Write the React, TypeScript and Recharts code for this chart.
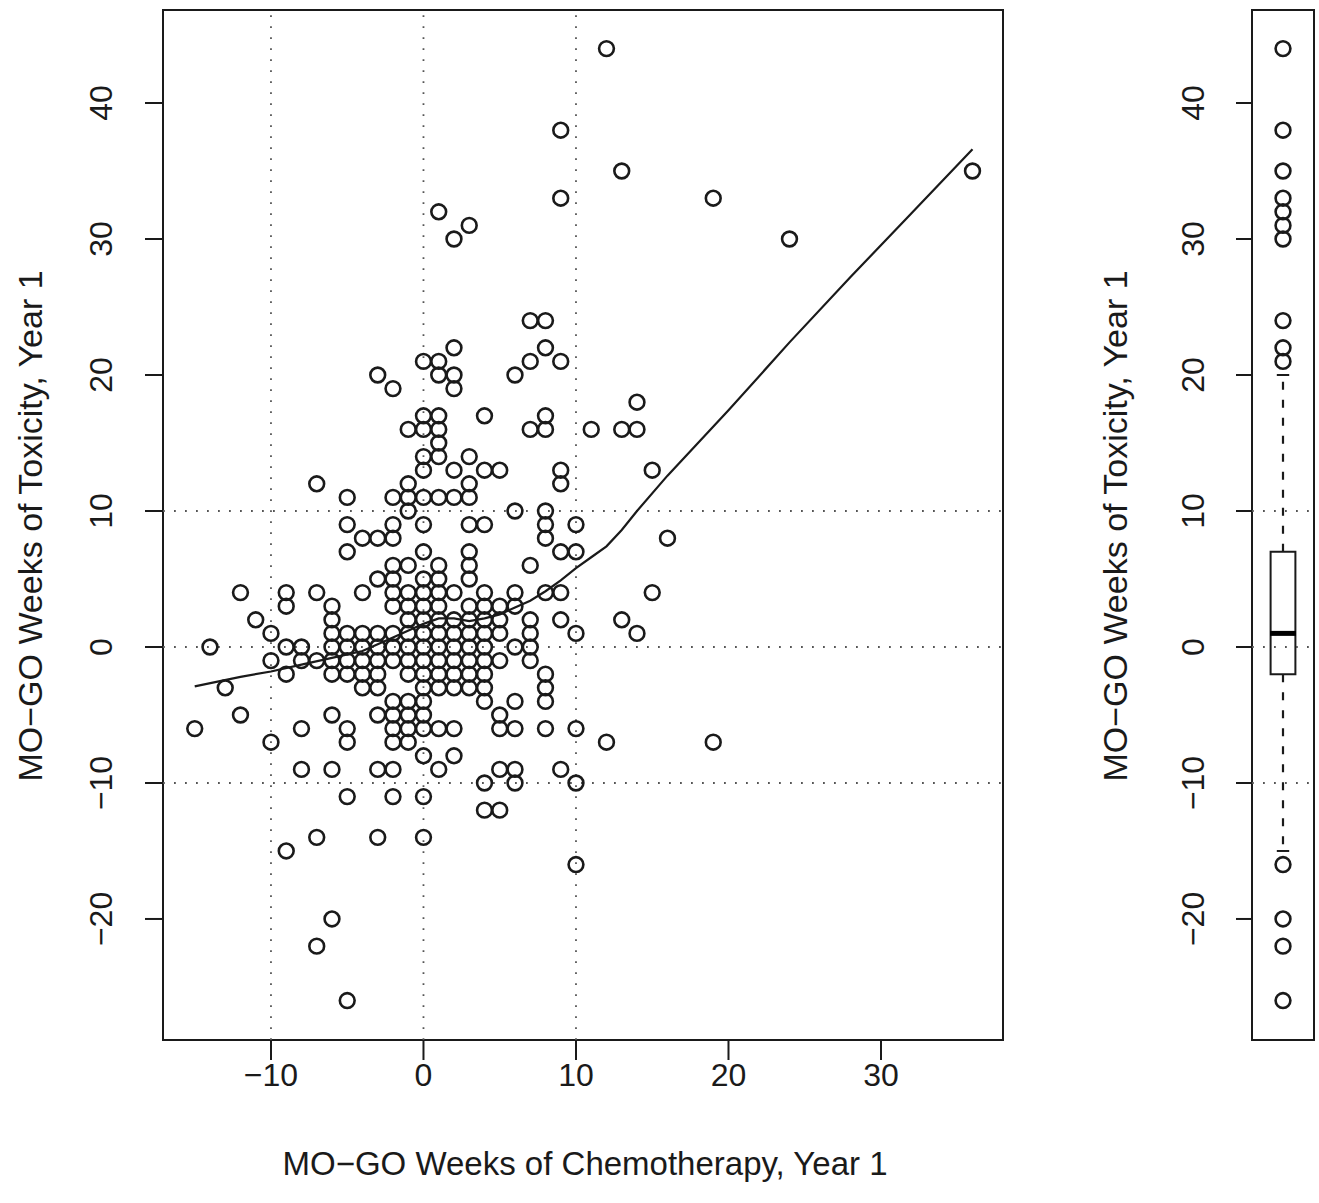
import React from 'react';
import {
  ScatterChart,
  Scatter,
  XAxis,
  YAxis,
  ReferenceLine,
  ReferenceArea,
} from 'recharts';

// x = chemo weeks, y values = toxicity weeks at that x
const pointColumns: [number, number[]][] = [
  [-15, [-6]],
  [-14, [0]],
  [-13, [-3]],
  [-12, [4, -5]],
  [-11, [2]],
  [-10, [1, -1, -7]],
  [-9, [4, 3, 0, -2, -15]],
  [-8, [0, -1, -6, -9]],
  [-7, [12, 4, -1, -14, -22]],
  [-6, [3, 2, 1, 0, -1, -2, -5, -9, -20]],
  [-5, [11, 9, 7, 1, 0, -1, -2, -6, -7, -11, -26]],
  [-4, [8, 4, 1, 0, -1, -2, -3]],
  [-3, [20, 8, 5, 1, 0, -1, -2, -3, -5, -9, -14]],
  [-2, [19, 11, 9, 8, 6, 5, 4, 3, 1, 0, -1, -4, -5, -6, -7, -9, -11]],
  [-1, [16, 12, 11, 10, 6, 4, 3, 2, 1, 0, -1, -2, -4, -5, -6, -7]],
  [0, [21, 17, 16, 14, 13, 11, 9, 7, 5, 4, 3, 2, 1, 0, -1, -2, -3, -4, -5, -6, -8, -11, -14]],
  [1, [32, 21, 20, 17, 16, 15, 14, 11, 6, 5, 4, 3, 2, 1, 0, -1, -2, -3, -6, -9]],
  [2, [30, 22, 20, 19, 13, 11, 4, 2, 1, 0, -1, -2, -3, -6, -8]],
  [3, [31, 14, 12, 11, 9, 7, 6, 5, 3, 2, 1, 0, -1, -2, -3]],
  [4, [17, 13, 9, 4, 3, 2, 1, 0, -1, -2, -3, -4, -10, -12]],
  [5, [13, 3, 2, 1, -1, -5, -6, -9, -12]],
  [6, [20, 10, 4, 3, 0, -4, -6, -9, -10]],
  [7, [24, 21, 16, 6, 2, 1, 0, -1]],
  [8, [24, 22, 17, 16, 10, 9, 8, 4, -2, -3, -4, -6]],
  [9, [38, 33, 21, 13, 12, 7, 4, 2, -9]],
  [10, [9, 7, 1, -6, -10, -16]],
  [11, [16]],
  [12, [44, -7]],
  [13, [35, 16, 2]],
  [14, [18, 16, 1]],
  [15, [13, 4]],
  [16, [8]],
  [19, [33, -7]],
  [24, [30]],
  [36, [35]],
];

// smooth fit
const smoothX = [-15, -12, -10, -8, -6, -4, -2, 0, 1, 2, 3, 4, 5, 6, 7, 8, 9, 10, 11, 12, 13, 14, 16, 18, 20, 24, 28, 32, 36];
const smoothY = [-2.9, -2.2, -1.8, -1.3, -0.8, -0.3, 0.7, 1.7, 2.1, 2.1, 1.9, 2.1, 2.4, 2.9, 3.4, 4.1, 4.9, 5.8, 6.6, 7.4, 8.6, 10.0, 12.6, 15.0, 17.4, 22.4, 27.2, 31.9, 36.6];

// boxplot of toxicity weeks
const boxQuartiles = [-2, 1, 7];
const boxWhiskers = [-15, 20];
const boxOutliers = [44, 38, 35, 33, 32, 31, 30, 24, 22, 21, -16, -20, -22, -26];

const xTicks = [-10, 0, 10, 20, 30];
const yTicks = [-20, -10, 0, 10, 20, 30, 40];
const xGuides = [-10, 0, 10];
const yGuides = [-10, 0, 10];

const xTitle = 'MO\u2212GO Weeks of Chemotherapy, Year 1';
const yTitle = 'MO\u2212GO Weeks of Toxicity, Year 1';

const X_MIN = -17.08;
const X_MAX = 38.0;
const Y_MIN = -28.9;
const Y_MAX = 46.84;

const FONT = '"Liberation Sans", Arial, Helvetica, sans-serif';
const INK = '#1a1a1a';

const points = pointColumns.flatMap(([x, ys]) => ys.map((y) => ({ x, y })));
const smooth = smoothX.map((x, i) => ({ x, y: smoothY[i] }));
const outliers = boxOutliers.map((y) => ({ x: 0.5, y }));

const fmt = (v: number) => (v < 0 ? '\u2212' + Math.abs(v) : String(v));

function OpenCircle(props: any) {
  const { cx, cy } = props;
  if (cx == null || cy == null) return <g />;
  return <circle cx={cx} cy={cy} r={7.4} fill="none" stroke={INK} strokeWidth={2.6} />;
}

function RotTick(props: any) {
  const { y, payload, labelX } = props;
  return (
    <text
      x={labelX}
      y={y}
      dy="0.35em"
      transform={`rotate(-90 ${labelX} ${y})`}
      textAnchor="middle"
      fontSize={32}
      fontFamily={FONT}
      fill={INK}
    >
      {fmt(payload.value)}
    </text>
  );
}

function XTick(props: any) {
  const { x, payload } = props;
  return (
    <text x={x} y={1086} textAnchor="middle" fontSize={32} fontFamily={FONT} fill={INK}>
      {fmt(payload.value)}
    </text>
  );
}

function Title(props: any) {
  const { tx, ty, rotate, text, size } = props;
  return (
    <text
      x={tx}
      y={ty}
      dy="0.35em"
      transform={rotate ? `rotate(-90 ${tx} ${ty})` : undefined}
      textAnchor="middle"
      fontSize={size}
      fontFamily={FONT}
      fill={INK}
    >
      {text}
    </text>
  );
}

const dotted = { stroke: '#555', strokeWidth: 1.8, strokeDasharray: '1.8 9.2' };

function MainPanel() {
  return (
    <ScatterChart width={1010} height={1203} margin={{ top: 10, right: 7, left: 0, bottom: 0 }}>
      <XAxis
        type="number"
        dataKey="x"
        domain={[X_MIN, X_MAX]}
        ticks={xTicks}
        interval={0}
        allowDataOverflow
        height={163}
        axisLine={false}
        tickSize={20}
        tickLine={{ stroke: INK, strokeWidth: 2 }}
        tick={(p: any) => <XTick {...p} />}
        label={<Title tx={585} ty={1163} size={33} text={xTitle} />}
      />
      <YAxis
        type="number"
        dataKey="y"
        domain={[Y_MIN, Y_MAX]}
        ticks={yTicks}
        interval={0}
        allowDataOverflow
        width={163}
        axisLine={false}
        tickSize={18}
        tickLine={{ stroke: INK, strokeWidth: 2 }}
        tick={(p: any) => <RotTick {...p} labelX={101} />}
        label={<Title tx={30} ty={526} rotate size={34} text={yTitle} />}
      />
      {xGuides.map((v) => (
        <ReferenceLine key={'gx' + v} x={v} {...dotted} />
      ))}
      {yGuides.map((v) => (
        <ReferenceLine key={'gy' + v} y={v} {...dotted} />
      ))}
      <Scatter data={points} shape={OpenCircle} isAnimationActive={false} />
      <Scatter
        data={smooth}
        line={{ stroke: INK, strokeWidth: 2.2 }}
        lineType="joint"
        shape={() => <g />}
        isAnimationActive={false}
      />
      <ReferenceArea
        x1={X_MIN}
        x2={X_MAX}
        y1={Y_MIN}
        y2={Y_MAX}
        fill="none"
        stroke={INK}
        strokeWidth={2}
        ifOverflow="visible"
      />
    </ScatterChart>
  );
}

function BoxPanel() {
  const [q1, med, q3] = boxQuartiles;
  const [lo, hi] = boxWhiskers;
  return (
    <ScatterChart width={309} height={1203} margin={{ top: 10, right: 5, left: 0, bottom: 163 }}>
      <XAxis type="number" dataKey="x" domain={[0, 1]} hide />
      <YAxis
        type="number"
        dataKey="y"
        domain={[Y_MIN, Y_MAX]}
        ticks={yTicks}
        interval={0}
        allowDataOverflow
        width={242}
        axisLine={false}
        tickSize={16}
        tickLine={{ stroke: INK, strokeWidth: 2 }}
        tick={(p: any) => <RotTick {...p} labelX={183} />}
        label={<Title tx={105} ty={526} rotate size={34} text={yTitle} />}
      />
      {yGuides.map((v) => (
        <ReferenceLine key={'by' + v} y={v} {...dotted} />
      ))}
      <ReferenceLine
        segment={[{ x: 0.5, y: q3 }, { x: 0.5, y: hi }]}
        stroke={INK}
        strokeWidth={2.2}
        strokeDasharray="8 10"
      />
      <ReferenceLine
        segment={[{ x: 0.5, y: q1 }, { x: 0.5, y: lo }]}
        stroke={INK}
        strokeWidth={2.2}
        strokeDasharray="8 10"
      />
      <ReferenceLine segment={[{ x: 0.4, y: hi }, { x: 0.6, y: hi }]} stroke={INK} strokeWidth={2} />
      <ReferenceLine segment={[{ x: 0.4, y: lo }, { x: 0.6, y: lo }]} stroke={INK} strokeWidth={2} />
      <ReferenceArea x1={0.3} x2={0.7} y1={q1} y2={q3} fill="#fff" fillOpacity={1} stroke={INK} strokeWidth={2} />
      <ReferenceLine segment={[{ x: 0.29, y: med }, { x: 0.71, y: med }]} stroke="#000" strokeWidth={5} />
      <Scatter data={outliers} shape={OpenCircle} isAnimationActive={false} />
      <ReferenceArea
        x1={0}
        x2={1}
        y1={Y_MIN}
        y2={Y_MAX}
        fill="none"
        stroke={INK}
        strokeWidth={2}
        ifOverflow="visible"
      />
    </ScatterChart>
  );
}

export default function App() {
  return (
    <div style={{ position: 'absolute', left: 0, top: 0, width: 1319, height: 1203, background: '#fff' }}>
      <div style={{ position: 'absolute', left: 0, top: 0 }}>
        <MainPanel />
      </div>
      <div style={{ position: 'absolute', left: 1010, top: 0 }}>
        <BoxPanel />
      </div>
    </div>
  );
}
